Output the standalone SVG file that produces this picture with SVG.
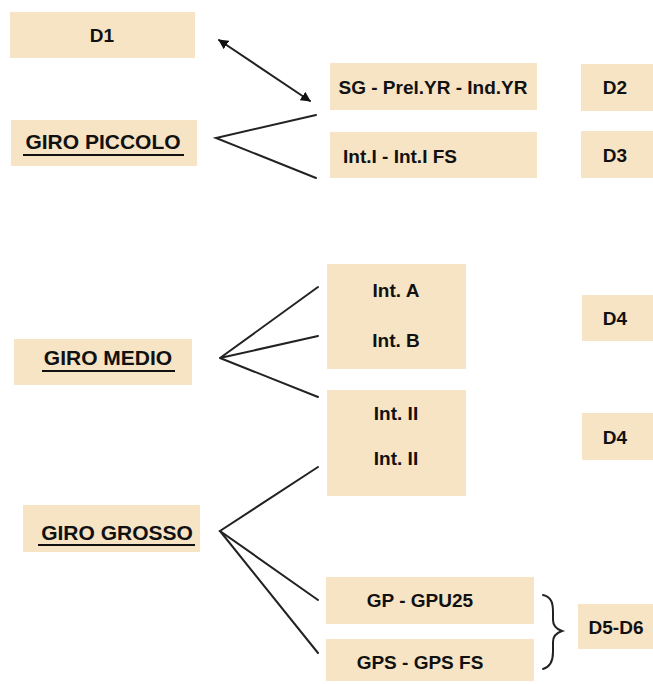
<svg xmlns="http://www.w3.org/2000/svg" width="653" height="684" viewBox="0 0 653 684">
<style>
.box{fill:#F7E4C5;}
.t{font-family:"Liberation Sans",Arial,sans-serif;font-weight:bold;font-size:19px;fill:#111;text-anchor:middle;}
.g{font-family:"Liberation Sans",Arial,sans-serif;font-weight:bold;font-size:21px;fill:#111;text-anchor:middle;}
.ul{stroke:#111;stroke-width:2.2;}
.ln{stroke:#222;stroke-width:2;fill:none;stroke-linecap:round;}
</style>
<defs>
<marker id="ah" viewBox="0 0 10 10" refX="9" refY="5" markerWidth="5" markerHeight="5" orient="auto-start-reverse">
<path d="M0,0 L10,5 L0,10 z" fill="#111"/>
</marker>
</defs>
<rect width="653" height="684" fill="#fff"/>
<g id="connectors">
<line class="ln" x1="219" y1="40" x2="310" y2="101" marker-start="url(#ah)" marker-end="url(#ah)"/>
<polyline class="ln" points="316,115 216,138 316,178"/>
<polyline class="ln" points="318,287 220,358 318,336"/>
<line class="ln" x1="220" y1="358" x2="318" y2="397"/>
<polyline class="ln" points="318,467 220,531 318,600"/>
<line class="ln" x1="220" y1="531" x2="318" y2="653"/>
<path class="ln" stroke-width="3" d="M543,595 C552,597 553,604 553,612 L553,620 C553,626 556,629 562,631 C556,633 553,636 553,642 L553,652 C553,662 550,667 543,669"/>
</g>
<g id="d1"><rect class="box" x="10" y="12" width="185" height="46"/><text class="t" x="102" y="42" font-size="20">D1</text></g>
<g id="giro-piccolo"><rect class="box" x="11" y="120" width="186" height="46"/><text class="g" x="103" y="149">GIRO PICCOLO</text><line class="ul" x1="23" y1="155" x2="184" y2="155"/></g>
<g id="sg"><rect class="box" x="330" y="63" width="207" height="47"/><text class="t" x="433" y="94">SG - Prel.YR - Ind.YR</text></g>
<g id="d2"><rect class="box" x="581" y="64" width="72" height="47"/><text class="t" x="615" y="94" font-size="20">D2</text></g>
<g id="int1"><rect class="box" x="330" y="132" width="207" height="46"/><text class="t" x="343" y="163" style="text-anchor:start">Int.I - Int.I FS</text></g>
<g id="d3"><rect class="box" x="581" y="131" width="72" height="47"/><text class="t" x="615" y="162" font-size="20">D3</text></g>
<g id="giro-medio"><rect class="box" x="14" y="339" width="178" height="46"/><text class="g" x="108" y="365">GIRO MEDIO</text><line class="ul" x1="42" y1="371" x2="175" y2="371"/></g>
<g id="int-ab"><rect class="box" x="327" y="264" width="139" height="105"/><text class="t" x="396" y="297">Int. A</text><text class="t" x="396" y="347">Int. B</text></g>
<g id="d4a"><rect class="box" x="582" y="295" width="71" height="46"/><text class="t" x="615" y="325" font-size="20">D4</text></g>
<g id="int-ii"><rect class="box" x="327" y="390" width="139" height="106"/><text class="t" x="396" y="420">Int. II</text><text class="t" x="396" y="465">Int. II</text></g>
<g id="d4b"><rect class="box" x="582" y="413" width="71" height="47"/><text class="t" x="615" y="444" font-size="20">D4</text></g>
<g id="giro-grosso"><rect class="box" x="23" y="505" width="177" height="47"/><text class="g" x="117" y="540">GIRO GROSSO</text><line class="ul" x1="38" y1="545" x2="195" y2="545"/></g>
<g id="gp"><rect class="box" x="326" y="577" width="208" height="47"/><text class="t" x="420" y="607">GP - GPU25</text></g>
<g id="gps"><rect class="box" x="326" y="639" width="208" height="42"/><text class="t" x="420" y="669">GPS - GPS FS</text></g>
<g id="d5d6"><rect class="box" x="578" y="604" width="75" height="45"/><text class="t" x="616" y="634" font-size="20">D5-D6</text></g>
</svg>
